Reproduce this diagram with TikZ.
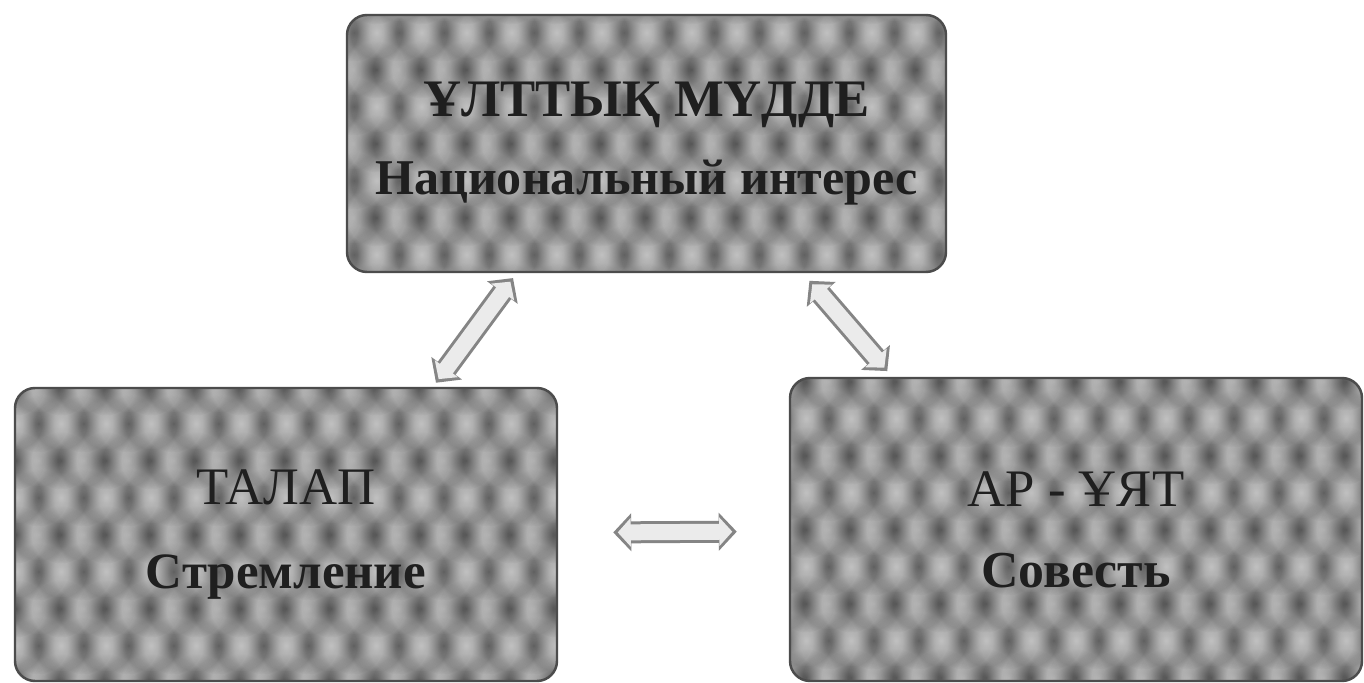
\documentclass[tikz,border=0pt]{standalone}
\usepackage{fontspec}
\setmainfont{Liberation Serif}
\usetikzlibrary{arrows.meta,calc,fadings}

\tikzfading[name=spotfade, inner color=transparent!0, outer color=transparent!100]

% blotchy grey filling of the panels
\newcommand{\bubbles}{%
  \fill[black!31] (path picture bounding box.south west) rectangle (path picture bounding box.north east);
  \foreach \col in {-8,...,8}
    \foreach \row in {-5,...,5} {
      \fill[black, fill opacity=0.58, path fading=spotfade]
        ($(path picture bounding box.center)+({\col*0.9+mod(\row+6,2)*0.45}, \row*0.74)$) circle (0.58);
      \fill[white, fill opacity=0.5, path fading=spotfade]
        ($(path picture bounding box.center)+({\col*0.9+mod(\row+7,2)*0.45}, \row*0.74)$) circle (0.52);
    }}

\begin{document}
\begin{tikzpicture}
        \tikzstyle{panel} = [shape = rectangle, rounded corners = 0.4cm, draw = black!70, line width = 1.4pt,
                             path picture = {\bubbles}, align = center, text = black!88]
        \tikzstyle{arrowrim} = [line width = 0.44cm, draw = black!48,
                                {Triangle[width=0.74cm,length=0.36cm]}-{Triangle[width=0.74cm,length=0.36cm]}]
        \tikzstyle{arrowcore} = [line width = 0.32cm, draw = black!8,
                                 {Triangle[width=0.56cm,length=0.26cm]}-{Triangle[width=0.56cm,length=0.26cm]}]

        \useasboundingbox[fill = white] (0, 0) rectangle (27.28, -13.66);

        \node[panel, minimum width = 11.98cm, minimum height = 5.14cm] at (12.93, -2.87) (mudde)
          {\fontsize{30}{34}\selectfont\bfseries ҰЛТТЫҚ МҮДДЕ\\[0.6cm]
           \fontsize{28.5}{32}\selectfont\bfseries Национальный интерес};

        \node[panel, minimum width = 10.84cm, minimum height = 5.86cm] at (5.72, -10.69) (talap)
          {\fontsize{30}{34}\selectfont ТАЛАП\\[0.95cm]
           \fontsize{29}{32}\selectfont\bfseries Стремление};

        \node[panel, minimum width = 11.44cm, minimum height = 6.06cm] at (21.52, -10.59) (aryat)
          {\fontsize{30}{34}\selectfont АР - ҰЯТ\\[0.9cm]
           \fontsize{29.5}{32}\selectfont\bfseries Совесть};

        \coordinate (a1) at ($(mudde.south west)!0.284!(mudde.south east)$);
        \coordinate (a2) at ($(talap.north west)!0.77!(talap.north east)$);
        \coordinate (b1) at ($(mudde.south west)!0.76!(mudde.south east)$);
        \coordinate (b2) at ($(aryat.north west)!0.18!(aryat.north east)$);

        \draw[arrowrim, shorten <= 0.12cm, shorten >= 0.1cm] (a1) -- (a2);
        \draw[arrowcore, shorten <= 0.21cm, shorten >= 0.19cm] (a1) -- (a2);

        \draw[arrowrim, shorten <= 0.2cm, shorten >= 0.15cm] (b1) -- (b2);
        \draw[arrowcore, shorten <= 0.29cm, shorten >= 0.24cm] (b1) -- (b2);

        \draw[arrowrim, shorten <= 1.1cm, shorten >= 1.04cm] (talap) -- (aryat);
        \draw[arrowcore, shorten <= 1.19cm, shorten >= 1.13cm] (talap) -- (aryat);
      \end{tikzpicture}
\end{document}
